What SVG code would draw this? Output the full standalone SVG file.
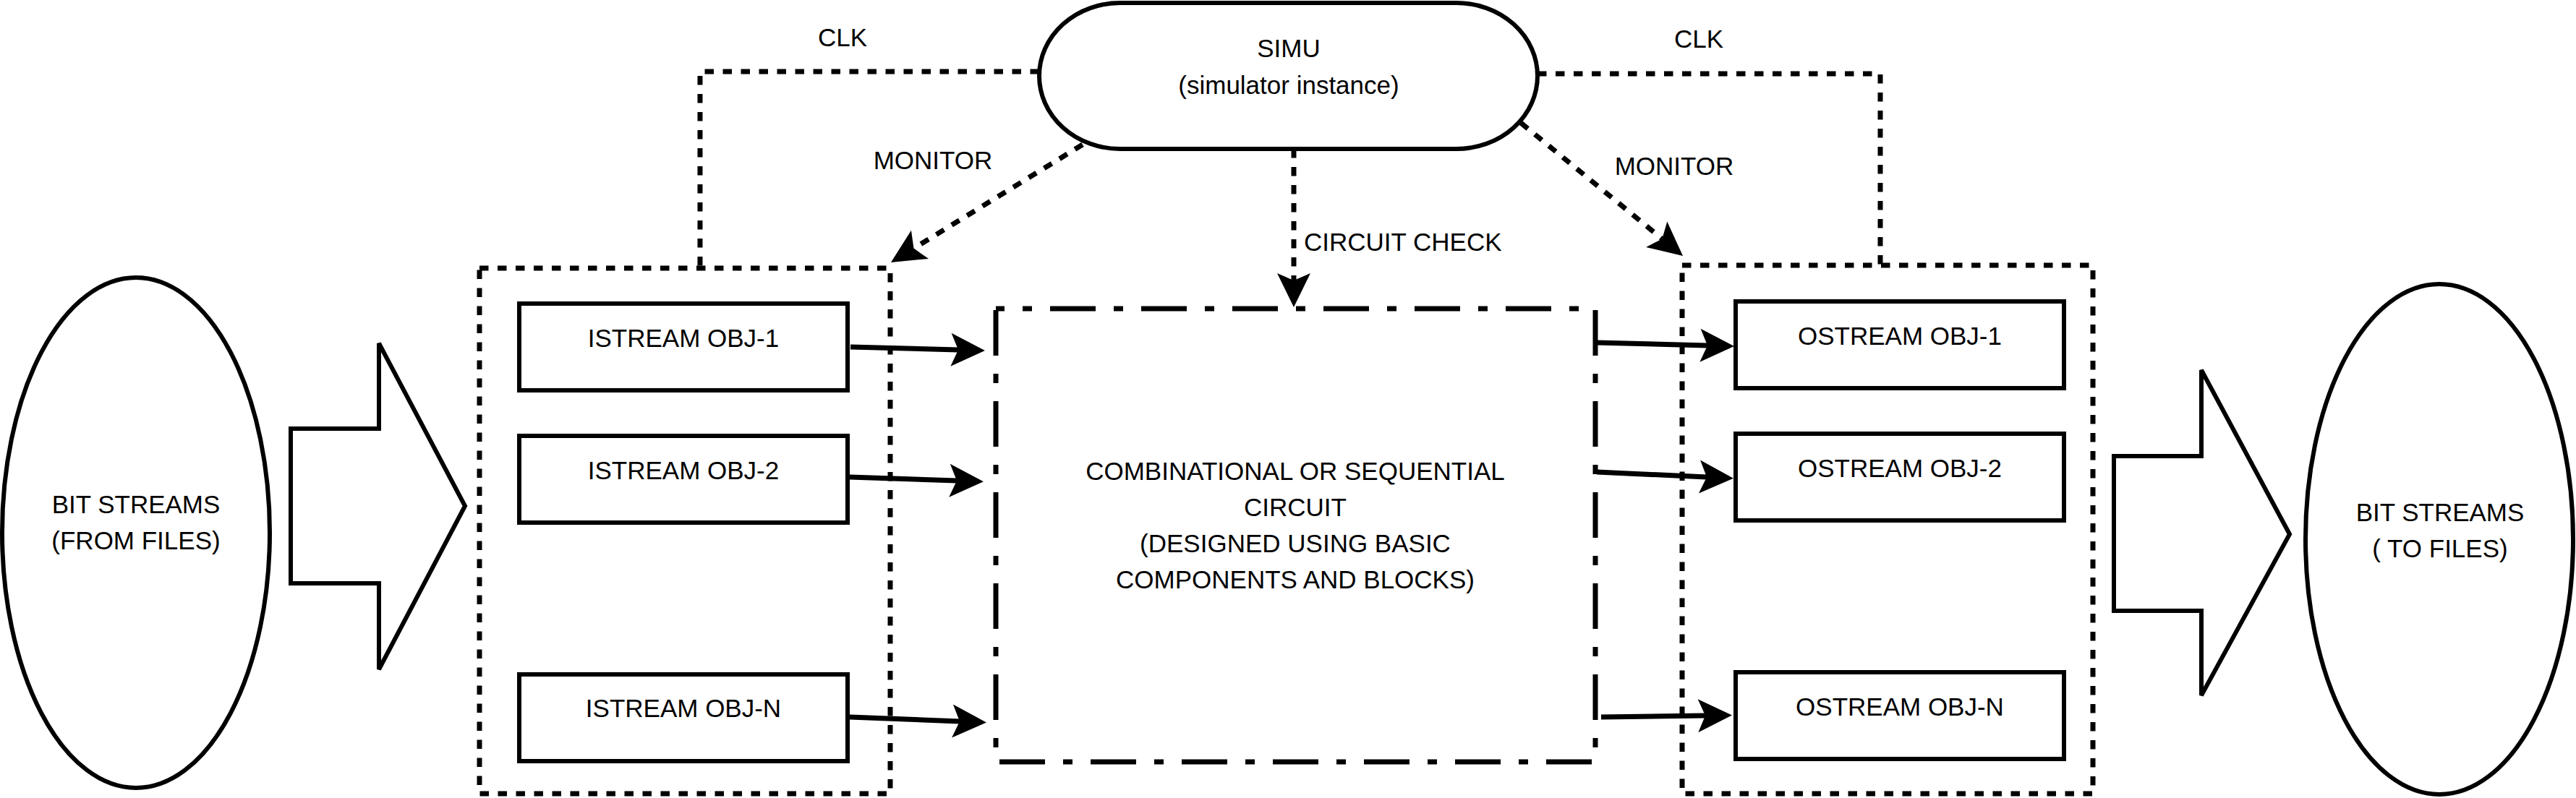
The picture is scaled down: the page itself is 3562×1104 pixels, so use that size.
<svg xmlns="http://www.w3.org/2000/svg" width="3562" height="1104" viewBox="0 0 3562 1104">
<style>
  text { font-family: "Liberation Sans", Arial, Helvetica, sans-serif; font-size: 35px; fill: #000; }
  .c { text-anchor: middle; }
  .solid { fill: #fff; stroke: #000; stroke-width: 6; }
  .dotbox { fill: none; stroke: #000; stroke-width: 7; stroke-dasharray: 12.5 12.5; }
  .dashdot { fill: #fff; stroke: #000; stroke-width: 7; stroke-dasharray: 63 25 13 25; stroke-dashoffset: 51; }
  .dotline { fill: none; stroke: #000; stroke-width: 7; stroke-dasharray: 12.5 12.5; }
  .line { fill: none; stroke: #000; stroke-width: 7; }
</style>
<defs>
  <marker id="arrow" markerUnits="userSpaceOnUse" viewBox="-12 -25 52 50" markerWidth="52" markerHeight="50" refX="0" refY="0" orient="auto">
    <path d="M37,0 L-10,-23 L0,0 L-10,23 Z" fill="#000" stroke="none"/>
  </marker>
</defs>
<rect width="3562" height="1104" fill="#fff"/>

<g id="containers">
  <g id="input-container"><rect class="dotbox" x="663" y="371" width="568" height="727"/></g>
  <g id="output-container"><rect class="dotbox" x="2326" y="367" width="568" height="731"/></g>
</g>

<g id="connectors">
  <path class="dotline" d="M1437,99 L968,99 L968,371"/>
  <path class="dotline" d="M2126,102 L2600,102 L2600,367"/>
  <path class="dotline" d="M1497,200 L1263.5,343.6" marker-end="url(#arrow)"/>
  <path class="dotline" d="M2103,170 L2298.4,330.5" marker-end="url(#arrow)"/>
  <path class="dotline" d="M1789,206 L1789,388" marker-end="url(#arrow)"/>
  <path class="line" d="M1176,480 L1325,484" marker-end="url(#arrow)"/>
  <path class="line" d="M1175,660 L1323,665" marker-end="url(#arrow)"/>
  <path class="line" d="M1175,992 L1327,998" marker-end="url(#arrow)"/>
  <path class="line" d="M2208,474 L2361,478" marker-end="url(#arrow)"/>
  <path class="line" d="M2208,653 L2360,660" marker-end="url(#arrow)"/>
  <path class="line" d="M2214,992 L2358,990" marker-end="url(#arrow)"/>
</g>

<g id="labels">
  <text class="c" x="1165" y="64">CLK</text>
  <text class="c" x="2349" y="66">CLK</text>
  <text class="c" x="1290" y="234">MONITOR</text>
  <text class="c" x="2315" y="242">MONITOR</text>
  <text x="1803" y="347">CIRCUIT CHECK</text>
</g>

<g id="simu">
  <rect class="solid" x="1437" y="4" width="689" height="202" rx="112" ry="101"/>
  <text class="c" x="1782" y="79">SIMU</text>
  <text class="c" x="1782" y="130">(simulator instance)</text>
</g>

<g id="bitstreams-in">
  <ellipse class="solid" cx="188" cy="737" rx="185" ry="353"/>
  <text class="c" x="188" y="710">BIT STREAMS</text>
  <text class="c" x="188" y="760">(FROM FILES)</text>
</g>

<g id="arrow-in">
  <polygon class="solid" points="402,593 524,593 524,475 643,700 524,926 524,807 402,807"/>
</g>

<g id="istream-1">
  <rect class="solid" x="718" y="420" width="454" height="120"/>
  <text class="c" x="945" y="480">ISTREAM OBJ-1</text>
</g>
<g id="istream-2">
  <rect class="solid" x="718" y="603" width="454" height="120"/>
  <text class="c" x="945" y="663">ISTREAM OBJ-2</text>
</g>
<g id="istream-n">
  <rect class="solid" x="718" y="933" width="454" height="120"/>
  <text class="c" x="945" y="992">ISTREAM OBJ-N</text>
</g>

<g id="circuit">
  <rect class="dashdot" x="1377" y="427" width="829" height="627"/>
  <text class="c" x="1791" y="664">COMBINATIONAL OR SEQUENTIAL</text>
  <text class="c" x="1791" y="714">CIRCUIT</text>
  <text class="c" x="1791" y="764">(DESIGNED USING BASIC</text>
  <text class="c" x="1791" y="814">COMPONENTS AND BLOCKS)</text>
</g>

<g id="ostream-1">
  <rect class="solid" x="2400" y="417" width="454" height="120"/>
  <text class="c" x="2627" y="477">OSTREAM OBJ-1</text>
</g>
<g id="ostream-2">
  <rect class="solid" x="2400" y="600" width="454" height="120"/>
  <text class="c" x="2627" y="660">OSTREAM OBJ-2</text>
</g>
<g id="ostream-n">
  <rect class="solid" x="2400" y="930" width="454" height="120"/>
  <text class="c" x="2627" y="990">OSTREAM OBJ-N</text>
</g>

<g id="arrow-out">
  <polygon class="solid" points="2923,631 3044,631 3044,512 3166,739 3044,962 3044,845 2923,845"/>
</g>

<g id="bitstreams-out">
  <ellipse class="solid" cx="3373" cy="746" rx="185" ry="353"/>
  <text class="c" x="3374" y="721">BIT STREAMS</text>
  <text class="c" x="3374" y="771">( TO FILES)</text>
</g>
</svg>
